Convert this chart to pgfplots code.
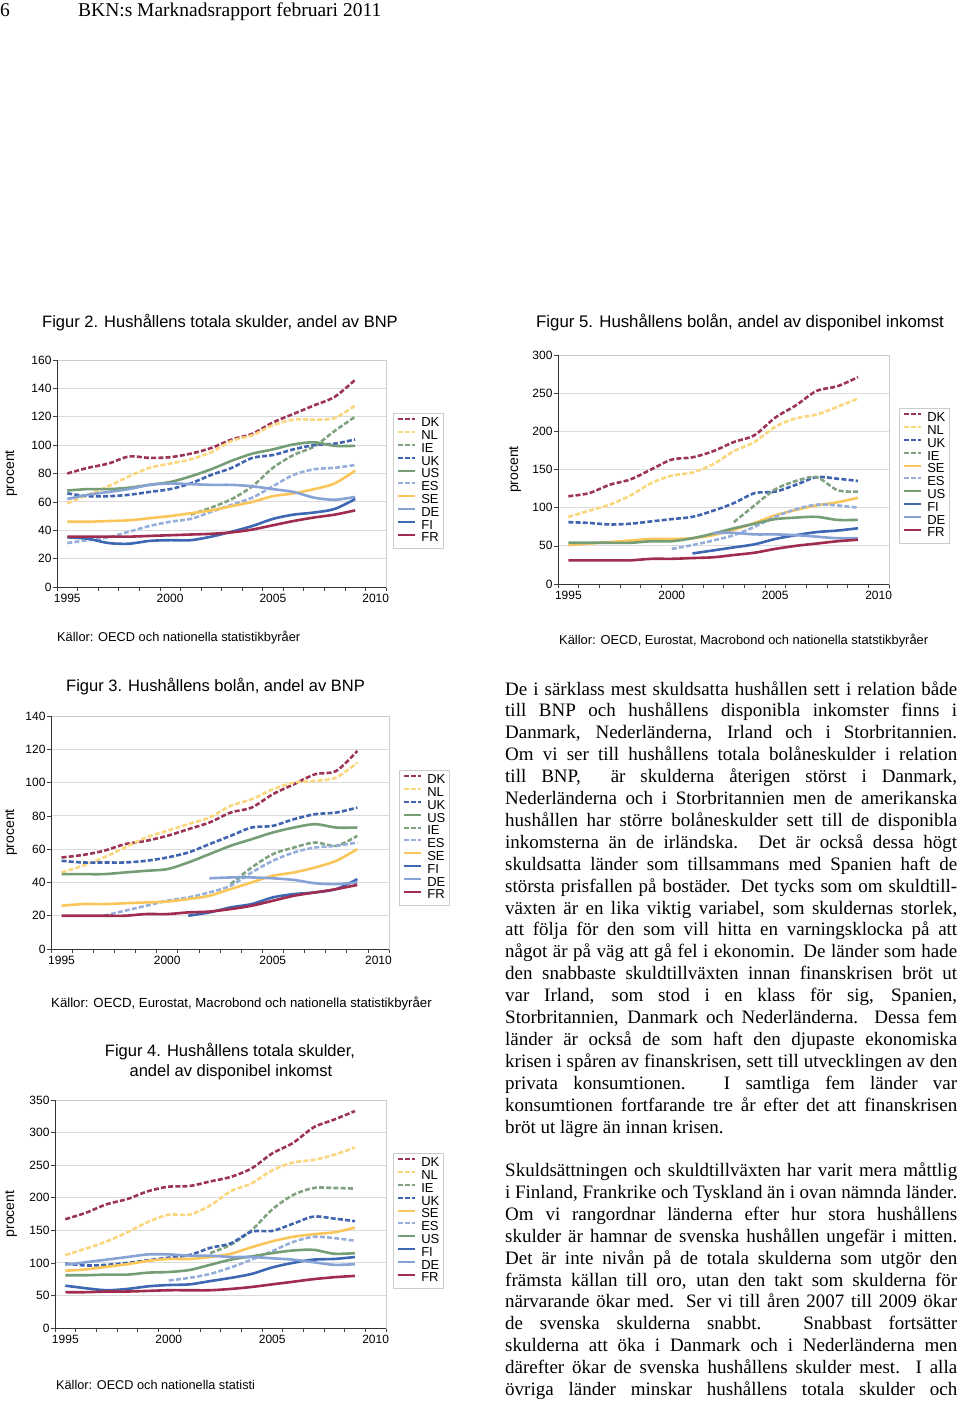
\documentclass[border=0pt]{standalone}
\usepackage{fontspec}
\setmainfont{Liberation Sans}
\newfontfamily\bodyfont{Liberation Serif}
\usepackage{pgfplots}
\pgfplotsset{compat=1.18}

\definecolor{cDK}{RGB}{155,52,85}
\definecolor{cNL}{RGB}{250,214,125}
\definecolor{cIE}{RGB}{128,162,128}
\definecolor{cUK}{RGB}{64,100,175}
\definecolor{cUS}{RGB}{118,158,118}
\definecolor{cES}{RGB}{150,175,218}
\definecolor{cSE}{RGB}{250,198,90}
\definecolor{cDE}{RGB}{135,163,213}
\definecolor{cFI}{RGB}{62,104,180}
\definecolor{cFR}{RGB}{160,45,78}

\pgfplotsset{
 dsh/.style={line width=2.6pt, dash pattern=on 5pt off 2.2pt, smooth, no markers},
 sld/.style={line width=2.6pt, solid, smooth, no markers},
 bkn/.style={
  scale only axis, clip=false, anchor=south west,
  xmin=1994.5, xmax=2010.5, ymin=0,
  xtick={1994.5,1995.5,...,2010.5}, xticklabels={},
  extra x ticks={1995,2000,2005,2010},
  extra x tick labels={1995,2000,2005,2010},
  extra x tick style={major tick length=0pt, grid=none},
  ymajorgrids, grid style={gray!28, line width=0.8pt},
  axis line style={gray!40, line width=0.8pt},
  tick align=outside, tick pos=left, major tick length=4pt,
  tick style={black!75, line width=0.6pt},
  /pgf/number format/assume math mode=true,
  ticklabel style={font=\fontsize{12}{13}\selectfont},
  xticklabel style={yshift=-3.5pt},
  yticklabel style={xshift=2pt},
  ylabel={procent}, label style={font=\fontsize{14}{15}\selectfont},
  legend cell align=left,
  legend image code/.code={\draw[#1, line width=2pt] (0pt,4pt) -- (17pt,4pt);},
  legend style={anchor=north west, draw=gray!40, line width=0.8pt,
    font=\fontsize{13}{13}\selectfont, inner sep=3.5pt, row sep=0pt,
    nodes={inner sep=0.4pt, text height=9.4pt, text depth=2.6pt},
    /tikz/every odd column/.style={column sep=5pt}},
 }
}

\begin{document}
\begin{tikzpicture}[x=1pt,y=1pt]
\path[use as bounding box] (0pt,0pt) rectangle (960pt,-1401pt);

% header
\node[anchor=base west, inner sep=0, font=\bodyfont\fontsize{19.5}{22}\selectfont] at (0pt,-16pt) {6};
\node[anchor=base west, inner sep=0, font=\bodyfont\fontsize{19.5}{22}\selectfont] at (78pt,-16pt) {BKN:s Marknadsrapport februari 2011};

% titles
\node[anchor=base west, inner sep=0, font=\fontsize{16.5}{18}\selectfont] at (42pt,-327pt) {Figur 2. Hushållens totala skulder, andel av BNP};
\node[anchor=base west, inner sep=0, font=\fontsize{16.8}{18}\selectfont] at (536pt,-327pt) {Figur 5. Hushållens bolån, andel av disponibel inkomst};
\node[anchor=base west, inner sep=0, font=\fontsize{16.5}{18}\selectfont] at (66pt,-691pt) {Figur 3. Hushållens bolån, andel av BNP};
\node[anchor=base, inner sep=0, font=\fontsize{16.5}{18}\selectfont] at (230pt,-1056pt) {Figur 4. Hushållens totala skulder,};
\node[anchor=base, inner sep=0, font=\fontsize{16.5}{18}\selectfont] at (231pt,-1076pt) {andel av disponibel inkomst};

% sources
\node[anchor=base west, inner sep=0, font=\fontsize{12.8}{14}\selectfont] at (57pt,-641pt) {Källor: OECD och nationella statistikbyråer};
\node[anchor=base west, inner sep=0, font=\fontsize{12.9}{14}\selectfont] at (559pt,-644pt) {Källor: OECD, Eurostat, Macrobond och nationella statstikbyråer};
\node[anchor=base west, inner sep=0, font=\fontsize{13.2}{14}\selectfont] at (51pt,-1007pt) {Källor: OECD, Eurostat, Macrobond och nationella statistikbyråer};
\node[anchor=base west, inner sep=0, font=\fontsize{12.7}{14}\selectfont] at (56pt,-1389pt) {Källor: OECD och nationella statisti};

% body text
\node[anchor=base west, inner sep=0] at (505pt,-695pt) {\parbox[t]{452pt}{\bodyfont\fontsize{19}{21.9}\selectfont
De i särklass mest skuldsatta hushållen sett i relation både\linebreak
till BNP och hushållens disponibla inkomster finns i\linebreak
Danmark, Nederländerna, Irland och i Storbritannien.\linebreak
Om vi ser till hushållens totala bolåneskulder i relation\linebreak
till BNP, \ är skulderna återigen störst i Danmark,\linebreak
Nederländerna och i Storbritannien men de amerikanska\linebreak
hushållen har större bolåneskulder sett till de disponibla\linebreak
inkomsterna än de irländska. Det är också dessa högt\linebreak
skuldsatta länder som tillsammans med Spanien haft de\linebreak
största prisfallen på bostäder. Det tycks som om skuldtill-\linebreak
växten är en lika viktig variabel, som skuldernas storlek,\linebreak
att följa för den som vill hitta en varningsklocka på att\linebreak
något är på väg att gå fel i ekonomin. De länder som hade\linebreak
den snabbaste skuldtillväxten innan finanskrisen bröt ut\linebreak
var Irland, som stod i en klass för sig, Spanien,\linebreak
Storbritannien, Danmark och Nederländerna. Dessa fem\linebreak
länder är också de som haft den djupaste ekonomiska\linebreak
krisen i spåren av finanskrisen, sett till utvecklingen av den\linebreak
privata konsumtionen. I samtliga fem länder var\linebreak
konsumtionen fortfarande tre år efter det att finanskrisen\linebreak
bröt ut lägre än innan krisen.}};

\node[anchor=base west, inner sep=0] at (505pt,-1176.5pt) {\parbox[t]{452pt}{\bodyfont\fontsize{19}{21.9}\selectfont\parfillskip=0pt
Skuldsättningen och skuldtillväxten har varit mera måttlig\linebreak
i Finland, Frankrike och Tyskland än i ovan nämnda länder.\linebreak
Om vi rangordnar länderna efter hur stora hushållens\linebreak
skulder är hamnar de svenska hushållen ungefär i mitten.\linebreak
Det är inte nivån på de totala skulderna som utgör den\linebreak
främsta källan till oro, utan den takt som skulderna för\linebreak
närvarande ökar med. Ser vi till åren 2007 till 2009 ökar\linebreak
de svenska skulderna snabbt. Snabbast fortsätter\linebreak
skulderna att öka i Danmark och i Nederländerna men\linebreak
därefter ökar de svenska hushållens skulder mest. I alla\linebreak
övriga länder minskar hushållens totala skulder och}};

% ---------- Figur 2 ----------
\begin{axis}[bkn, at={(57pt,-587pt)}, width=329pt, height=227pt,
  ymax=160, ytick={0,20,...,160},
  ylabel style={at={(axis description cs:-0.1398,0.5)}, anchor=center},
  legend style={at={(1.0213,0.7665)}},
  legend entries={DK,NL,IE,UK,US,ES,SE,DE,FI,FR}]
\addplot[cDK,dsh] coordinates {(1995,80) (1996,84) (1997,87) (1998,92) (1999,91) (2000,91.5) (2001,94) (2002,98) (2003,104) (2004,108) (2005,116) (2006,122) (2007,128) (2008,134) (2009,146)};
\addplot[cNL,dsh] coordinates {(1995,59) (1996,65) (1997,71) (1998,78) (1999,84) (2000,87) (2001,90) (2002,95) (2003,103) (2004,107) (2005,114) (2006,118) (2007,118) (2008,119) (2009,128)};
\addplot[cIE,dsh] coordinates {(2001,51) (2002,56) (2003,62) (2004,71) (2005,84) (2006,93) (2007,99) (2008,110) (2009,120)};
\addplot[cUK,dsh] coordinates {(1995,66) (1996,64) (1997,64) (1998,65) (1999,67) (2000,69) (2001,73) (2002,79) (2003,84) (2004,91) (2005,93) (2006,97) (2007,100) (2008,101) (2009,104)};
\addplot[cUS,sld] coordinates {(1995,68) (1996,69) (1997,69) (1998,70) (1999,72) (2000,74) (2001,78) (2002,83) (2003,89) (2004,94) (2005,97) (2006,100.5) (2007,102) (2008,99.5) (2009,99.5)};
\addplot[cES,dsh] coordinates {(1995,31) (1996,33) (1997,35) (1998,39) (1999,43) (2000,46) (2001,48) (2002,53) (2003,58) (2004,63) (2005,71) (2006,79) (2007,83) (2008,84) (2009,86)};
\addplot[cSE,sld] coordinates {(1995,46) (1996,46) (1997,46.5) (1998,47) (1999,48.5) (2000,50) (2001,52) (2002,54) (2003,57) (2004,60) (2005,64) (2006,66) (2007,69) (2008,73) (2009,82)};
\addplot[cDE,sld] coordinates {(1995,62) (1996,65) (1997,67) (1998,69) (1999,72) (2000,73) (2001,72.5) (2002,72) (2003,72) (2004,71) (2005,69) (2006,67) (2007,63) (2008,61.5) (2009,63.5)};
\addplot[cFI,sld] coordinates {(1995,35) (1996,34) (1997,31) (1998,30.5) (1999,32.5) (2000,33) (2001,33) (2002,35.5) (2003,39) (2004,43) (2005,48) (2006,51) (2007,52.5) (2008,55) (2009,62)};
\addplot[cFR,sld] coordinates {(1995,35.5) (1996,35.5) (1997,35.5) (1998,35.5) (1999,36) (2000,36.5) (2001,37) (2002,37.5) (2003,38.5) (2004,40.5) (2005,43.5) (2006,46.5) (2007,49) (2008,51) (2009,54)};
\draw[black!80, line width=0.8pt] (rel axis cs:0,1) -- (rel axis cs:0,0) -- (rel axis cs:1,0);
\end{axis}

% ---------- Figur 5 ----------
\begin{axis}[bkn, at={(558pt,-584pt)}, width=331pt, height=229pt,
  ymax=300, ytick={0,50,...,300},
  ylabel style={at={(axis description cs:-0.1299,0.5)}, anchor=center},
  legend style={at={(1.0302,0.7686)}},
  legend entries={DK,NL,UK,IE,SE,ES,US,FI,DE,FR}]
\addplot[cDK,dsh] coordinates {(1995,115) (1996,119) (1997,130) (1998,137) (1999,150) (2000,163) (2001,166) (2002,174) (2003,186) (2004,195) (2005,218) (2006,234) (2007,253) (2008,259) (2009,271)};
\addplot[cNL,dsh] coordinates {(1995,88) (1996,96) (1997,104) (1998,116) (1999,132) (2000,142) (2001,146) (2002,157) (2003,174) (2004,186) (2005,206) (2006,217) (2007,222) (2008,232) (2009,243)};
\addplot[cUK,dsh] coordinates {(1995,81) (1996,80) (1997,78) (1998,79) (1999,82) (2000,85) (2001,88) (2002,96) (2003,106) (2004,119) (2005,121) (2006,130) (2007,140) (2008,138) (2009,135)};
\addplot[cIE,dsh] coordinates {(2003,81) (2004,103) (2005,124) (2006,135) (2007,140) (2008,123) (2009,121)};
\addplot[cSE,sld] coordinates {(1995,51) (1996,53) (1997,55) (1998,57) (1999,59) (2000,59) (2001,60) (2002,64) (2003,71) (2004,80) (2005,90) (2006,97) (2007,103) (2008,107) (2009,113)};
\addplot[cES,dsh] coordinates {(2000,46) (2001,51) (2002,57) (2003,64) (2004,75) (2005,88) (2006,98) (2007,104) (2008,103) (2009,100)};
\addplot[cUS,sld] coordinates {(1995,54) (1996,54) (1997,54) (1998,54) (1999,56) (2000,56) (2001,60) (2002,66) (2003,73) (2004,79) (2005,85) (2006,87) (2007,88) (2008,84) (2009,84)};
\addplot[cFI,sld] coordinates {(2001,40) (2002,44) (2003,48) (2004,52) (2005,59) (2006,64) (2007,68) (2008,70) (2009,73)};
\addplot[cDE,sld] coordinates {(2002,67) (2003,67) (2004,65) (2005,65) (2006,64) (2007,62) (2008,60) (2009,60)};
\addplot[cFR,sld] coordinates {(1995,31) (1996,31) (1997,31) (1998,31) (1999,33) (2000,33) (2001,34) (2002,35) (2003,38) (2004,41) (2005,46) (2006,50) (2007,53) (2008,56) (2009,58)};
\draw[black!80, line width=0.8pt] (rel axis cs:0,1) -- (rel axis cs:0,0) -- (rel axis cs:1,0);
\end{axis}

% ---------- Figur 3 ----------
\begin{axis}[bkn, at={(51pt,-949pt)}, width=338pt, height=233pt,
  ymax=140, ytick={0,20,...,140},
  ylabel style={at={(axis description cs:-0.1183,0.5)}, anchor=center},
  legend style={at={(1.0296,0.7682)}},
  legend entries={DK,NL,UK,US,IE,ES,SE,FI,DE,FR}]
\addplot[cDK,dsh] coordinates {(1995,55) (1996,56.5) (1997,59) (1998,63) (1999,65) (2000,68) (2001,72) (2002,76) (2003,82) (2004,85) (2005,93) (2006,99) (2007,105) (2008,107) (2009,119)};
\addplot[cNL,dsh] coordinates {(1995,46) (1996,50) (1997,55) (1998,61) (1999,67) (2000,71) (2001,75) (2002,79) (2003,86) (2004,90) (2005,96) (2006,100) (2007,101) (2008,103) (2009,112)};
\addplot[cUK,dsh] coordinates {(1995,53) (1996,52) (1997,52) (1998,52) (1999,53) (2000,55) (2001,58) (2002,63) (2003,68) (2004,73) (2005,74) (2006,78) (2007,81) (2008,82) (2009,85)};
\addplot[cUS,sld] coordinates {(1995,45) (1996,45) (1997,45) (1998,46) (1999,47) (2000,48) (2001,52) (2002,57) (2003,62) (2004,66) (2005,70) (2006,73) (2007,75) (2008,73) (2009,73)};
\addplot[cIE,dsh] coordinates {(2003,39) (2004,49) (2005,57) (2006,61) (2007,64) (2008,62) (2009,68)};
\addplot[cES,dsh] coordinates {(1997,20) (1998,23) (1999,26) (2000,29) (2001,31) (2002,34) (2003,38) (2004,46) (2005,53) (2006,58) (2007,61) (2008,62) (2009,64)};
\addplot[cSE,sld] coordinates {(1995,26) (1996,27) (1997,27) (1998,27.5) (1999,28) (2000,28.5) (2001,30) (2002,32) (2003,36) (2004,40) (2005,44) (2006,46) (2007,49) (2008,53) (2009,60)};
\addplot[cFI,sld] coordinates {(2001,20) (2002,22) (2003,25) (2004,27) (2005,31) (2006,33) (2007,34) (2008,36) (2009,42)};
\addplot[cDE,sld] coordinates {(2002,42.5) (2003,43) (2004,43) (2005,42.5) (2006,41.5) (2007,39.5) (2008,39) (2009,40)};
\addplot[cFR,sld] coordinates {(1995,20) (1996,20) (1997,20) (1998,20) (1999,21) (2000,21) (2001,22) (2002,22.5) (2003,24) (2004,26) (2005,29) (2006,32) (2007,34) (2008,36) (2009,38.5)};
\draw[black!80, line width=0.8pt] (rel axis cs:0,1) -- (rel axis cs:0,0) -- (rel axis cs:1,0);
\end{axis}

% ---------- Figur 4 ----------
\begin{axis}[bkn, at={(55pt,-1328pt)}, width=331pt, height=228pt,
  ymax=350, ytick={0,50,...,350},
  ylabel style={at={(axis description cs:-0.1329,0.5)}, anchor=center},
  legend style={at={(1.0211,0.7675)}},
  legend entries={DK,NL,IE,UK,SE,ES,US,FI,DE,FR}]
\addplot[cDK,dsh] coordinates {(1995,167) (1996,177) (1997,190) (1998,198) (1999,210) (2000,217) (2001,218) (2002,225) (2003,232) (2004,245) (2005,268) (2006,284) (2007,308) (2008,320) (2009,333)};
\addplot[cNL,dsh] coordinates {(1995,112) (1996,122) (1997,133) (1998,147) (1999,163) (2000,174) (2001,174) (2002,188) (2003,210) (2004,222) (2005,242) (2006,254) (2007,258) (2008,266) (2009,277)};
\addplot[cIE,dsh] coordinates {(2002,115) (2003,128) (2004,150) (2005,182) (2006,204) (2007,215) (2008,215) (2009,214)};
\addplot[cUK,dsh] coordinates {(1995,99) (1996,96) (1997,97) (1998,100) (1999,104) (2000,108) (2001,112) (2002,123) (2003,130) (2004,148) (2005,149) (2006,160) (2007,171) (2008,168) (2009,164)};
\addplot[cSE,sld] coordinates {(1995,88) (1996,90) (1997,94) (1998,98) (1999,103) (2000,106) (2001,106) (2002,109) (2003,114) (2004,124) (2005,133) (2006,140) (2007,144) (2008,147) (2009,154)};
\addplot[cES,dsh] coordinates {(2000,73) (2001,77) (2002,83) (2003,93) (2004,105) (2005,118) (2006,132) (2007,140) (2008,138) (2009,134)};
\addplot[cUS,sld] coordinates {(1995,81) (1996,81) (1997,82) (1998,82) (1999,85) (2000,86) (2001,89) (2002,97) (2003,105) (2004,110) (2005,115) (2006,119) (2007,120) (2008,114) (2009,115)};
\addplot[cFI,sld] coordinates {(1995,65) (1996,61) (1997,58) (1998,60) (1999,64) (2000,66) (2001,67) (2002,72) (2003,77) (2004,83) (2005,93) (2006,100) (2007,105) (2008,106) (2009,109)};
\addplot[cDE,sld] coordinates {(1995,97) (1996,101) (1997,105) (1998,109) (1999,113) (2000,113) (2001,111) (2002,111) (2003,109) (2004,109) (2005,107) (2006,105) (2007,101) (2008,97) (2009,98)};
\addplot[cFR,sld] coordinates {(1995,55) (1996,55) (1997,56) (1998,56) (1999,57) (2000,58) (2001,58) (2002,58) (2003,60) (2004,63) (2005,67) (2006,71) (2007,75) (2008,78) (2009,80)};
\draw[black!80, line width=0.8pt] (rel axis cs:0,1) -- (rel axis cs:0,0) -- (rel axis cs:1,0);
\end{axis}
\end{tikzpicture}
\end{document}
